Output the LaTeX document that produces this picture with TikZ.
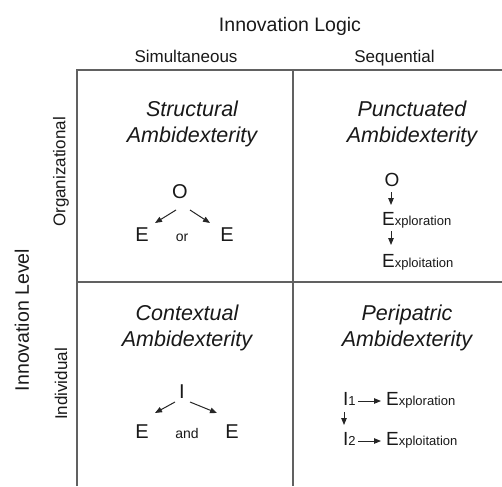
\documentclass[tikz,border=0pt]{standalone}
\usepackage{fontspec}
\setmainfont{Liberation Sans}
\usetikzlibrary{arrows.meta}
\begin{document}
\begin{tikzpicture}[x=1pt,y=-1pt,
  grid/.style={draw=black!62, line width=1.5pt},
  txt/.style={inner sep=0pt, anchor=base, text=black!90},
  head/.style={txt, font=\fontsize{17}{20}\selectfont},
  title/.style={txt, font=\fontsize{21.5}{26}\selectfont\itshape},
  big/.style={txt, font=\fontsize{20}{22}\selectfont},
  mid/.style={txt, font=\fontsize{19}{21}\selectfont},
  small/.style={txt, font=\fontsize{14}{16}\selectfont},
  arr/.style={draw=black!85, line width=1pt, -{Triangle[length=7pt,width=5.5pt]}},
  side/.style={inner sep=0pt, anchor=center, rotate=90, text=black!90}]
\useasboundingbox (0,0) rectangle (502,486);
\fill[white] (0,0) rectangle (502,486);
% grid
\coordinate (tl) at (77,70);
\coordinate (tr) at (502,70);
\coordinate (bl) at (77,486);
\coordinate (ml) at (77,282);
\coordinate (mr) at (502,282);
\coordinate (tm) at (293,70);
\coordinate (bm) at (293,486);
\draw[grid] (bl) -- (tl) -- (tr);
\draw[grid] (ml) -- (mr);
\draw[grid] (tm) -- (bm);
% headers
\node[txt, font=\fontsize{19.5}{22}\selectfont] (logic) at (290,32) {Innovation Logic};
\node[head] (simul) at (186,63) {Simultaneous};
\node[head] (seq) at (394.5,63) {Sequential};
\node[side, font=\fontsize{19.5}{22}\selectfont] (level) at (22,320) {Innovation Level};
\node[side, font=\fontsize{17}{20}\selectfont] (org) at (61,172) {Organizational};
\node[side, font=\fontsize{17}{20}\selectfont] (ind) at (61,384) {Individual};
% titles
\node[title] (t1a) at (192,117) {Structural};
\node[title] (t1b) at (192,143) {Ambidexterity};
\node[title] (t2a) at (412,117) {Punctuated};
\node[title] (t2b) at (412,143) {Ambidexterity};
\node[title] (t3a) at (187,320) {Contextual};
\node[title] (t3b) at (187,346) {Ambidexterity};
\node[title] (t4a) at (407,320) {Peripatric};
\node[title] (t4b) at (407,346) {Ambidexterity};
% cell 1
\node[big] (o1) at (180,198) {O};
\node[big] (e1l) at (142,241) {E};
\node[big] (e1r) at (227,241) {E};
\node[small] (or1) at (182,241) {or};
\coordinate (a1s) at (176,210);
\coordinate (a1e) at (155,223);
\coordinate (a2s) at (190,210);
\coordinate (a2e) at (210,223);
\draw[arr] (a1s) -- (a1e);
\draw[arr] (a2s) -- (a2e);
% cell 2
\node[mid] (o2) at (392,186) {O};
\node[txt, anchor=base west] (e2a) at (382,225) {\fontsize{19}{21}\selectfont E\fontsize{13}{15}\selectfont xploration};
\node[txt, anchor=base west] (e2b) at (382,267) {\fontsize{19}{21}\selectfont E\fontsize{13}{15}\selectfont xploitation};
\coordinate (b1s) at (391,192);
\coordinate (b1e) at (391,205);
\coordinate (b2s) at (391,231);
\coordinate (b2e) at (391,245);
\draw[arr] (b1s) -- (b1e);
\draw[arr] (b2s) -- (b2e);
% cell 3
\node[big] (i3) at (182,398) {I};
\node[big] (e3l) at (142,438) {E};
\node[big] (e3r) at (232,438) {E};
\node[small] (and3) at (187,438) {and};
\coordinate (c1s) at (175,402);
\coordinate (c1e) at (155,413);
\coordinate (c2s) at (190,402);
\coordinate (c2e) at (217,413);
\draw[arr] (c1s) -- (c1e);
\draw[arr] (c2s) -- (c2e);
% cell 4
\node[txt, anchor=base west] (i41) at (343,405) {\fontsize{19}{21}\selectfont I\fontsize{13}{15}\selectfont 1};
\node[txt, anchor=base west] (i42) at (343,445) {\fontsize{19}{21}\selectfont I\fontsize{13}{15}\selectfont 2};
\node[txt, anchor=base west] (e41) at (386,405) {\fontsize{19}{21}\selectfont E\fontsize{13}{15}\selectfont xploration};
\node[txt, anchor=base west] (e42) at (386,445) {\fontsize{19}{21}\selectfont E\fontsize{13}{15}\selectfont xploitation};
\coordinate (d1s) at (358,401);
\coordinate (d1e) at (381,401);
\coordinate (d2s) at (358,441);
\coordinate (d2e) at (381,441);
\coordinate (d3s) at (344,412);
\coordinate (d3e) at (344,425);
\draw[arr] (d1s) -- (d1e);
\draw[arr] (d2s) -- (d2e);
\draw[arr] (d3s) -- (d3e);
\end{tikzpicture}
\end{document}
